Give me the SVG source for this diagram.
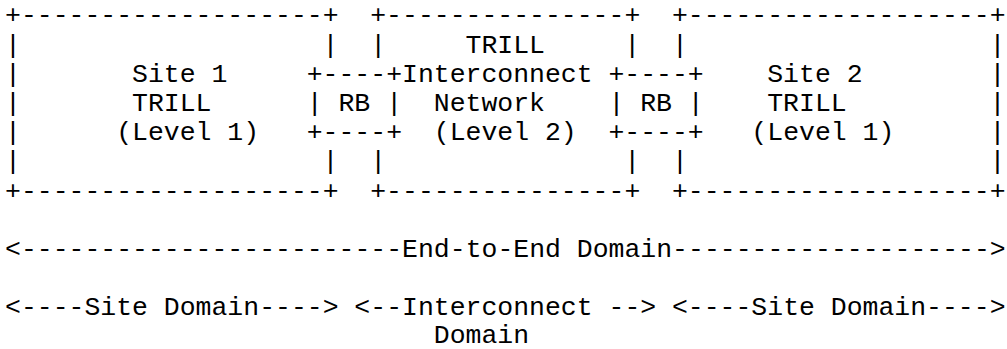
<svg xmlns="http://www.w3.org/2000/svg" width="1007" height="349" viewBox="0 0 1007 349" xml:space="preserve">
<style>
text { font-family: "Liberation Mono", "Courier New", monospace; font-size: 26.47px; fill: #000; white-space: pre; }
</style>
<rect x="0" y="0" width="1007" height="349" fill="#fff"/>
<g id="site1">
<text x="5" y="23.3">+-------------------+</text>
<text x="5" y="52.5">|</text><text x="322.6" y="52.5">|</text>
<text x="5" y="81.7">|</text><text x="132.04" y="81.7">Site 1</text>
<text x="5" y="110.9">|</text><text x="132.04" y="110.9">TRILL</text>
<text x="5" y="140.1">|</text><text x="116.16" y="140.1">(Level 1)</text>
<text x="5" y="169.3">|</text><text x="322.6" y="169.3">|</text>
<text x="5" y="198.5">+-------------------+</text>
</g>
<g id="rb1">
<text x="306.72" y="81.7">+----+</text>
<text x="306.72" y="110.9">| RB |</text>
<text x="306.72" y="140.1">+----+</text>
</g>
<g id="interconnect">
<text x="370.24" y="23.3">+---------------+</text>
<text x="370.24" y="52.5">|</text><text x="465.52" y="52.5">TRILL</text><text x="624.32" y="52.5">|</text>
<text x="402" y="81.7">Interconnect</text>
<text x="433.76" y="110.9">Network</text>
<text x="433.76" y="140.1">(Level 2)</text>
<text x="370.24" y="169.3">|</text><text x="624.32" y="169.3">|</text>
<text x="370.24" y="198.5">+---------------+</text>
</g>
<g id="rb2">
<text x="608.44" y="81.7">+----+</text>
<text x="608.44" y="110.9">| RB |</text>
<text x="608.44" y="140.1">+----+</text>
</g>
<g id="site2">
<text x="671.96" y="23.3">+-------------------+</text>
<text x="671.96" y="52.5">|</text><text x="989.56" y="52.5">|</text>
<text x="767.24" y="81.7">Site 2</text><text x="989.56" y="81.7">|</text>
<text x="767.24" y="110.9">TRILL</text><text x="989.56" y="110.9">|</text>
<text x="751.36" y="140.1">(Level 1)</text><text x="989.56" y="140.1">|</text>
<text x="671.96" y="169.3">|</text><text x="989.56" y="169.3">|</text>
<text x="671.96" y="198.5">+-------------------+</text>
</g>
<g id="connectors">
<text x="5" y="256.9">&lt;------------------------End-to-End Domain--------------------&gt;</text>
<text x="5" y="315.3">&lt;----Site Domain----&gt;</text>
<text x="354.36" y="315.3">&lt;--Interconnect --&gt;</text>
<text x="671.96" y="315.3">&lt;----Site Domain----&gt;</text>
<text x="433.76" y="342.5">Domain</text>
</g>
</svg>
